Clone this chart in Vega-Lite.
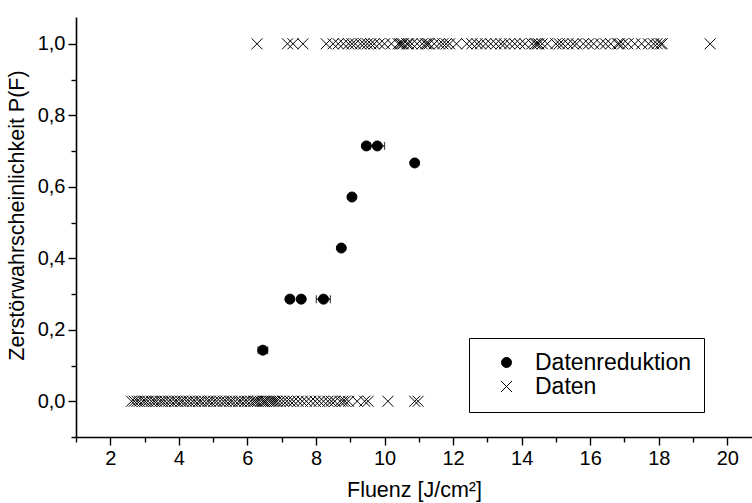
{
  "$schema": "https://vega.github.io/schema/vega-lite/v6.json",
  "width": 676,
  "height": 420,
  "autosize": "none",
  "padding": {"left": 76, "top": 17, "right": 0, "bottom": 66},
  "background": "white",
  "config": {
    "view": {"stroke": null},
    "font": "Liberation Sans",
    "axis": {
      "domainColor": "black", "domainWidth": 1.6, "tickColor": "black", "tickWidth": 1.4,
      "labelColor": "black", "titleColor": "black", "grid": false,
      "labelFont": "Liberation Sans", "titleFont": "Liberation Sans",
      "labelFontSize": 20, "titleFontSize": 21.5, "titleFontWeight": "normal"
    },
    "legend": {"labelFont": "Liberation Sans"}
  },
  "data": {
    "values": [
      {"F": 6.45, "P": 0.1429, "series": "Datenreduktion", "lo": 6.31, "hi": 6.59},
      {"F": 7.24, "P": 0.2857, "series": "Datenreduktion"},
      {"F": 7.57, "P": 0.2857, "series": "Datenreduktion"},
      {"F": 8.22, "P": 0.2857, "series": "Datenreduktion", "lo": 8.01, "hi": 8.42},
      {"F": 8.74, "P": 0.4286, "series": "Datenreduktion"},
      {"F": 9.05, "P": 0.5714, "series": "Datenreduktion"},
      {"F": 9.47, "P": 0.7143, "series": "Datenreduktion"},
      {"F": 9.79, "P": 0.7143, "series": "Datenreduktion", "lo": 9.58, "hi": 10.0},
      {"F": 10.88, "P": 0.6667, "series": "Datenreduktion"},

      {"F": 2.62, "P": 0, "series": "Daten"}, {"F": 2.7, "P": 0, "series": "Daten"}, {"F": 2.78, "P": 0, "series": "Daten"},
      {"F": 2.85, "P": 0, "series": "Daten"}, {"F": 2.95, "P": 0, "series": "Daten"}, {"F": 3.02, "P": 0, "series": "Daten"},
      {"F": 3.1, "P": 0, "series": "Daten"}, {"F": 3.2, "P": 0, "series": "Daten"}, {"F": 3.28, "P": 0, "series": "Daten"},
      {"F": 3.35, "P": 0, "series": "Daten"}, {"F": 3.45, "P": 0, "series": "Daten"}, {"F": 3.52, "P": 0, "series": "Daten"},
      {"F": 3.6, "P": 0, "series": "Daten"}, {"F": 3.7, "P": 0, "series": "Daten"}, {"F": 3.78, "P": 0, "series": "Daten"},
      {"F": 3.88, "P": 0, "series": "Daten"}, {"F": 3.95, "P": 0, "series": "Daten"}, {"F": 4.05, "P": 0, "series": "Daten"},
      {"F": 4.12, "P": 0, "series": "Daten"}, {"F": 4.22, "P": 0, "series": "Daten"}, {"F": 4.3, "P": 0, "series": "Daten"},
      {"F": 4.4, "P": 0, "series": "Daten"}, {"F": 4.48, "P": 0, "series": "Daten"}, {"F": 4.58, "P": 0, "series": "Daten"},
      {"F": 4.65, "P": 0, "series": "Daten"}, {"F": 4.75, "P": 0, "series": "Daten"}, {"F": 4.85, "P": 0, "series": "Daten"},
      {"F": 4.92, "P": 0, "series": "Daten"}, {"F": 5.02, "P": 0, "series": "Daten"}, {"F": 5.1, "P": 0, "series": "Daten"},
      {"F": 5.2, "P": 0, "series": "Daten"}, {"F": 5.3, "P": 0, "series": "Daten"}, {"F": 5.38, "P": 0, "series": "Daten"},
      {"F": 5.48, "P": 0, "series": "Daten"}, {"F": 5.55, "P": 0, "series": "Daten"}, {"F": 5.65, "P": 0, "series": "Daten"},
      {"F": 5.75, "P": 0, "series": "Daten"}, {"F": 5.82, "P": 0, "series": "Daten"}, {"F": 5.92, "P": 0, "series": "Daten"},
      {"F": 6.0, "P": 0, "series": "Daten"}, {"F": 6.1, "P": 0, "series": "Daten"}, {"F": 6.18, "P": 0, "series": "Daten"},
      {"F": 6.24, "P": 0, "series": "Daten"}, {"F": 6.3, "P": 0, "series": "Daten"}, {"F": 6.38, "P": 0, "series": "Daten"},
      {"F": 6.45, "P": 0, "series": "Daten"}, {"F": 6.5, "P": 0, "series": "Daten"}, {"F": 6.55, "P": 0, "series": "Daten"},
      {"F": 6.62, "P": 0, "series": "Daten"}, {"F": 6.68, "P": 0, "series": "Daten"}, {"F": 6.74, "P": 0, "series": "Daten"},
      {"F": 6.8, "P": 0, "series": "Daten"}, {"F": 6.86, "P": 0, "series": "Daten"}, {"F": 6.95, "P": 0, "series": "Daten"},
      {"F": 7.05, "P": 0, "series": "Daten"}, {"F": 7.15, "P": 0, "series": "Daten"}, {"F": 7.25, "P": 0, "series": "Daten"},
      {"F": 7.35, "P": 0, "series": "Daten"}, {"F": 7.48, "P": 0, "series": "Daten"}, {"F": 7.6, "P": 0, "series": "Daten"},
      {"F": 7.72, "P": 0, "series": "Daten"}, {"F": 7.85, "P": 0, "series": "Daten"}, {"F": 7.98, "P": 0, "series": "Daten"},
      {"F": 8.1, "P": 0, "series": "Daten"}, {"F": 8.22, "P": 0, "series": "Daten"}, {"F": 8.35, "P": 0, "series": "Daten"},
      {"F": 8.45, "P": 0, "series": "Daten"}, {"F": 8.55, "P": 0, "series": "Daten"}, {"F": 8.7, "P": 0, "series": "Daten"},
      {"F": 8.78, "P": 0, "series": "Daten"}, {"F": 8.85, "P": 0, "series": "Daten"}, {"F": 8.95, "P": 0, "series": "Daten"},
      {"F": 9.2, "P": 0, "series": "Daten"}, {"F": 9.42, "P": 0, "series": "Daten"}, {"F": 9.52, "P": 0, "series": "Daten"},
      {"F": 10.1, "P": 0, "series": "Daten"}, {"F": 10.88, "P": 0, "series": "Daten"}, {"F": 10.98, "P": 0, "series": "Daten"},

      {"F": 6.28, "P": 1, "series": "Daten"}, {"F": 7.17, "P": 1, "series": "Daten"}, {"F": 7.33, "P": 1, "series": "Daten"},
      {"F": 7.62, "P": 1, "series": "Daten"}, {"F": 8.3, "P": 1, "series": "Daten"}, {"F": 8.5, "P": 1, "series": "Daten"},
      {"F": 8.65, "P": 1, "series": "Daten"}, {"F": 8.8, "P": 1, "series": "Daten"}, {"F": 8.95, "P": 1, "series": "Daten"},
      {"F": 9.05, "P": 1, "series": "Daten"}, {"F": 9.15, "P": 1, "series": "Daten"}, {"F": 9.3, "P": 1, "series": "Daten"},
      {"F": 9.4, "P": 1, "series": "Daten"}, {"F": 9.5, "P": 1, "series": "Daten"}, {"F": 9.6, "P": 1, "series": "Daten"},
      {"F": 9.7, "P": 1, "series": "Daten"}, {"F": 9.85, "P": 1, "series": "Daten"}, {"F": 10.0, "P": 1, "series": "Daten"},
      {"F": 10.2, "P": 1, "series": "Daten"}, {"F": 10.4, "P": 1, "series": "Daten"}, {"F": 10.45, "P": 1, "series": "Daten"},
      {"F": 10.5, "P": 1, "series": "Daten"}, {"F": 10.55, "P": 1, "series": "Daten"}, {"F": 10.65, "P": 1, "series": "Daten"},
      {"F": 10.7, "P": 1, "series": "Daten"}, {"F": 10.8, "P": 1, "series": "Daten"}, {"F": 10.95, "P": 1, "series": "Daten"},
      {"F": 11.1, "P": 1, "series": "Daten"}, {"F": 11.2, "P": 1, "series": "Daten"}, {"F": 11.25, "P": 1, "series": "Daten"},
      {"F": 11.3, "P": 1, "series": "Daten"}, {"F": 11.45, "P": 1, "series": "Daten"}, {"F": 11.6, "P": 1, "series": "Daten"},
      {"F": 11.7, "P": 1, "series": "Daten"}, {"F": 11.8, "P": 1, "series": "Daten"}, {"F": 11.9, "P": 1, "series": "Daten"},
      {"F": 12.1, "P": 1, "series": "Daten"}, {"F": 12.4, "P": 1, "series": "Daten"}, {"F": 12.55, "P": 1, "series": "Daten"},
      {"F": 12.7, "P": 1, "series": "Daten"}, {"F": 12.8, "P": 1, "series": "Daten"}, {"F": 12.95, "P": 1, "series": "Daten"},
      {"F": 13.1, "P": 1, "series": "Daten"}, {"F": 13.25, "P": 1, "series": "Daten"}, {"F": 13.4, "P": 1, "series": "Daten"},
      {"F": 13.5, "P": 1, "series": "Daten"}, {"F": 13.65, "P": 1, "series": "Daten"}, {"F": 13.8, "P": 1, "series": "Daten"},
      {"F": 13.95, "P": 1, "series": "Daten"}, {"F": 14.1, "P": 1, "series": "Daten"}, {"F": 14.3, "P": 1, "series": "Daten"},
      {"F": 14.4, "P": 1, "series": "Daten"}, {"F": 14.45, "P": 1, "series": "Daten"}, {"F": 14.5, "P": 1, "series": "Daten"},
      {"F": 14.6, "P": 1, "series": "Daten"}, {"F": 14.75, "P": 1, "series": "Daten"}, {"F": 15.0, "P": 1, "series": "Daten"},
      {"F": 15.1, "P": 1, "series": "Daten"}, {"F": 15.2, "P": 1, "series": "Daten"}, {"F": 15.35, "P": 1, "series": "Daten"},
      {"F": 15.5, "P": 1, "series": "Daten"}, {"F": 15.6, "P": 1, "series": "Daten"}, {"F": 15.8, "P": 1, "series": "Daten"},
      {"F": 15.95, "P": 1, "series": "Daten"}, {"F": 16.1, "P": 1, "series": "Daten"}, {"F": 16.3, "P": 1, "series": "Daten"},
      {"F": 16.45, "P": 1, "series": "Daten"}, {"F": 16.6, "P": 1, "series": "Daten"}, {"F": 16.8, "P": 1, "series": "Daten"},
      {"F": 16.85, "P": 1, "series": "Daten"}, {"F": 16.95, "P": 1, "series": "Daten"}, {"F": 17.1, "P": 1, "series": "Daten"},
      {"F": 17.3, "P": 1, "series": "Daten"}, {"F": 17.5, "P": 1, "series": "Daten"}, {"F": 17.7, "P": 1, "series": "Daten"},
      {"F": 17.85, "P": 1, "series": "Daten"}, {"F": 17.95, "P": 1, "series": "Daten"}, {"F": 18.05, "P": 1, "series": "Daten"},
      {"F": 18.1, "P": 1, "series": "Daten"}, {"F": 19.5, "P": 1, "series": "Daten"}
    ]
  },
  "encoding": {
    "x": {
      "field": "F", "type": "quantitative",
      "scale": {"domain": [1, 20.72], "nice": false, "zero": false},
      "axis": {
        "title": "Fluenz [J/cm²]",
        "values": [1, 2, 3, 4, 5, 6, 7, 8, 9, 10, 11, 12, 13, 14, 15, 16, 17, 18, 19, 20],
        "labelExpr": "datum.value % 2 == 0 ? datum.label : ''",
        "tickSize": {"condition": {"test": "datum.value % 2 == 0", "value": 8}, "value": 5},
        "labelPadding": 3, "titlePadding": 11, "labelFlush": false, "labelOverlap": false
      }
    },
    "y": {
      "field": "P", "type": "quantitative",
      "scale": {"domain": [-0.1, 1.075], "nice": false, "zero": false},
      "axis": {
        "title": "Zerstörwahrscheinlichkeit P(F)",
        "values": [-0.1, 0, 0.1, 0.2, 0.3, 0.4, 0.5, 0.6, 0.7, 0.8, 0.9, 1.0],
        "labelExpr": "round(datum.value * 10) % 2 == 0 ? replace(format(datum.value, '.1f'), '.', ',') : ''",
        "tickSize": {"condition": {"test": "round(datum.value * 10) % 2 == 0", "value": 8}, "value": 5},
        "labelPadding": 3, "titlePadding": 9, "titleY": 198, "labelFlush": false, "labelOverlap": false
      }
    }
  },
  "layer": [
    {
      "transform": [{"filter": "isValid(datum.lo)"}],
      "mark": {"type": "rule", "color": "black", "strokeWidth": 1.2},
      "encoding": {"x": {"field": "lo", "type": "quantitative"}, "x2": {"field": "hi"}}
    },
    {
      "transform": [{"filter": "isValid(datum.lo)"}],
      "mark": {"type": "tick", "orient": "vertical", "color": "black", "size": 8, "thickness": 1.2},
      "encoding": {"x": {"field": "lo", "type": "quantitative"}}
    },
    {
      "transform": [{"filter": "isValid(datum.hi)"}],
      "mark": {"type": "tick", "orient": "vertical", "color": "black", "size": 8, "thickness": 1.2},
      "encoding": {"x": {"field": "hi", "type": "quantitative"}}
    },
    {
      "mark": {"type": "point", "filled": true, "opacity": 1, "stroke": "black", "strokeWidth": 1},
      "encoding": {
        "shape": {
          "field": "series", "type": "nominal",
          "scale": {"domain": ["Datenreduktion", "Daten"], "range": ["circle", "M-1,-1L1,1M-1,1L1,-1"]},
          "legend": {
            "title": null, "orient": "none", "legendX": 393, "legendY": 321,
            "strokeColor": "black", "fillColor": "white", "padding": 13,
            "symbolOffset": 13, "labelOffset": 17, "labelFontSize": 23, "labelColor": "black",
            "rowPadding": 0, "symbolSize": 100, "symbolStrokeColor": "black", "symbolStrokeWidth": 1
          }
        },
        "fill": {
          "field": "series", "type": "nominal",
          "scale": {"domain": ["Datenreduktion", "Daten"], "range": ["black", "transparent"]}
        },
        "size": {
          "field": "series", "type": "nominal",
          "scale": {"domain": ["Datenreduktion", "Daten"], "range": [100, 121]}
        }
      }
    }
  ]
}
